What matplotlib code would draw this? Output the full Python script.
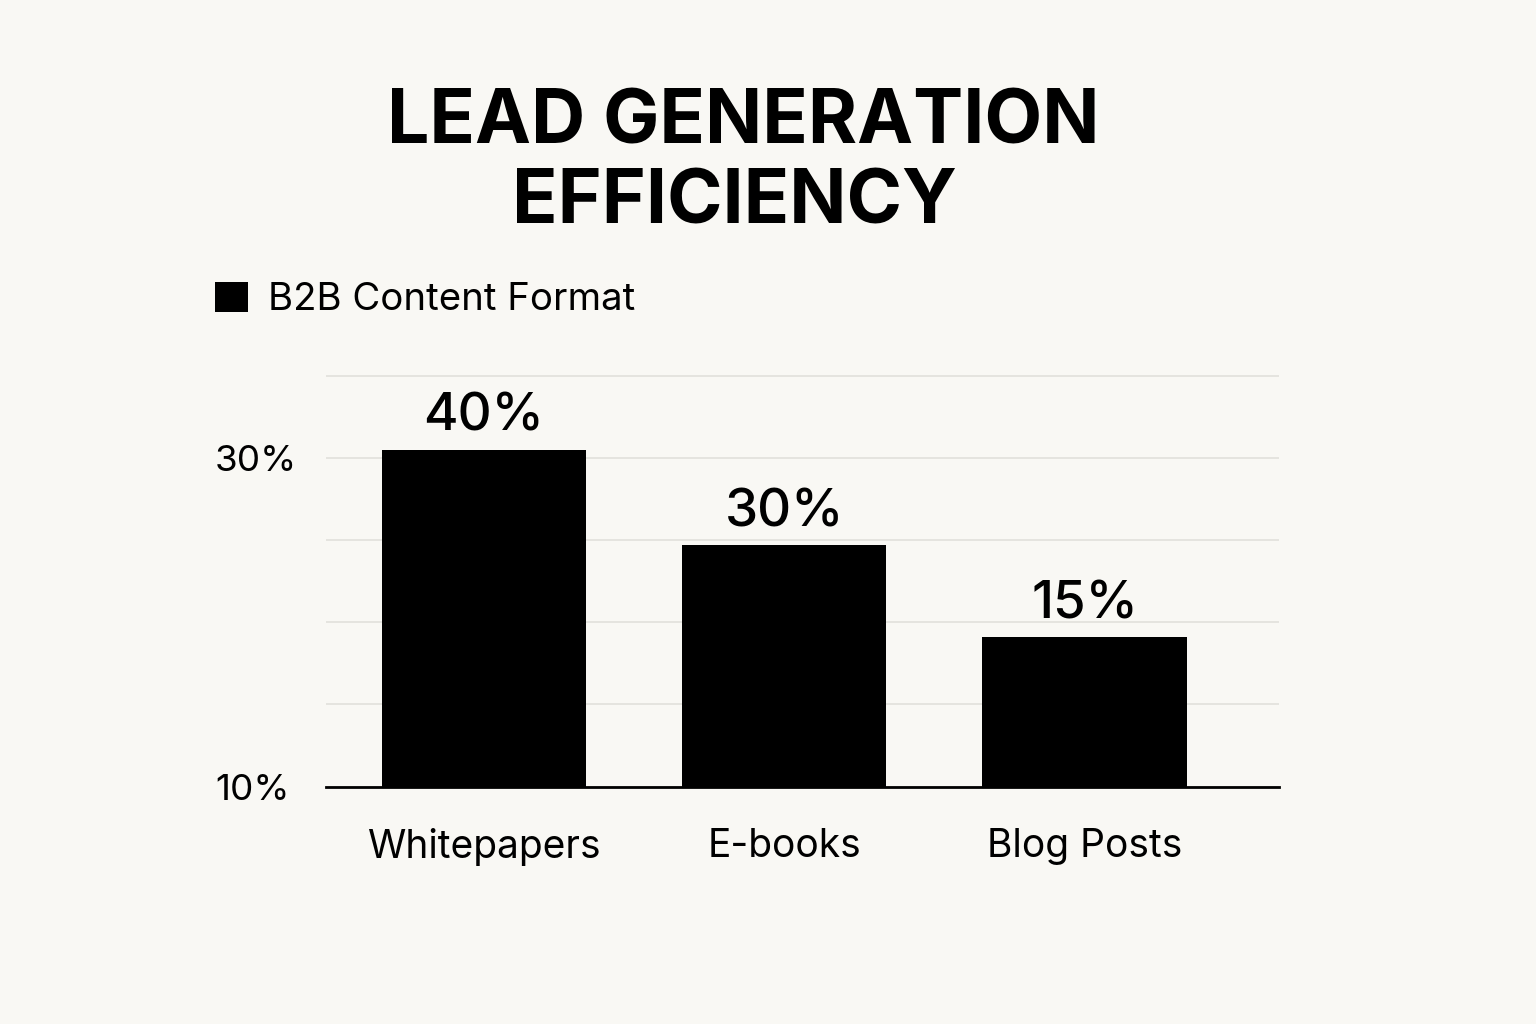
import matplotlib
matplotlib.use('Agg')
import matplotlib.pyplot as plt

# data
categories = ['Whitepapers', 'E-books', 'Blog Posts']
bar_heights = [30.5, 24.7, 19.1]          # bar tops measured against the axis
value_labels = ['40%', '30%', '15%']      # printed labels above bars
series_name = 'B2B Content Format'
ytick_values = [10, 15, 20, 25, 30, 35]
ytick_labels = ['10%', '', '', '', '30%', '']

BG = '#f9f8f4'
FONT = ['Inter', 'DejaVu Sans']

plt.rcParams['font.family'] = FONT

fig = plt.figure(figsize=(15.36, 10.24), dpi=100, facecolor=BG)
ax = fig.add_axes([0.2122, 0.2317, 0.6204, 0.4048], facecolor=BG)

x = range(len(categories))
bars = ax.bar(x, bar_heights, width=0.68, color='black', label=series_name, zorder=3)

for rect, lab in zip(bars, value_labels):
    ax.annotate(lab, (rect.get_x() + rect.get_width() / 2, rect.get_height()),
                xytext=(0, 13.5), textcoords='offset points',
                ha='center', va='baseline', fontsize=38, fontweight='medium')

ax.set_xlim(-0.525, 2.647)
ax.set_ylim(10, 35.2)
ax.set_xticks(list(x))
ax.set_xticklabels(categories, fontsize=28)
ax.set_yticks(ytick_values)
ax.set_yticklabels(ytick_labels, fontsize=26.5, ha='left')
ax.tick_params(axis='x', length=0, pad=30)
ax.tick_params(axis='y', length=0, pad=80)

ax.grid(axis='y', color='#e2e0db', linewidth=1.2, zorder=0)
for side in ['top', 'right', 'left']:
    ax.spines[side].set_visible(False)
ax.spines['bottom'].set_linewidth(2)
ax.spines['bottom'].set_color('black')
ax.spines['bottom'].set_zorder(4)

ax.legend(loc='center left', bbox_to_anchor=(215 / 1536, 1 - 300 / 1024),
          bbox_transform=fig.transFigure, frameon=False, fontsize=27.6,
          handlelength=0.86, handleheight=0.86, handletextpad=0.52,
          borderpad=0, borderaxespad=0)

fig.text(743 / 1536, 1 - 143 / 1024, 'LEAD GENERATION', ha='center', va='baseline',
         fontsize=54, fontweight='bold')
fig.text(734 / 1536, 1 - 223 / 1024, 'EFFICIENCY', ha='center', va='baseline',
         fontsize=54, fontweight='bold')

fig.savefig('out.png', dpi=100, facecolor=BG)
